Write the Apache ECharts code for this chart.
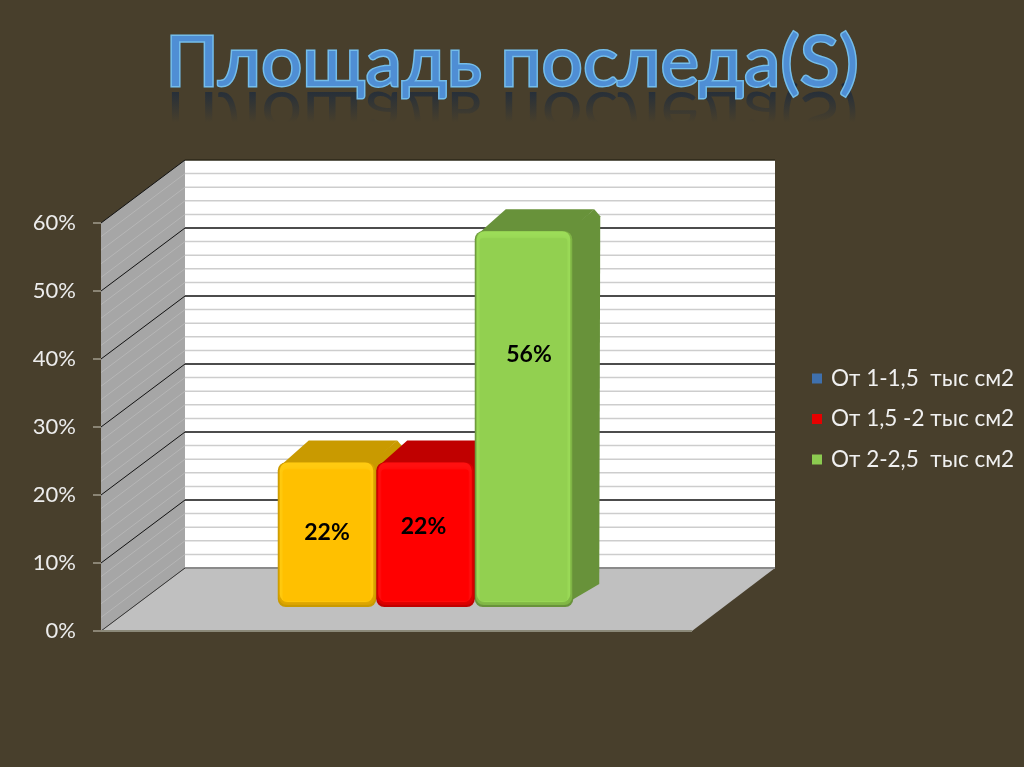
<!DOCTYPE html>
<html><head><meta charset="utf-8">
<style>html,body{margin:0;padding:0;background:#483f2c}#c{width:1024px;height:767px}</style>
<script src="https://cdn.jsdelivr.net/npm/echarts@6/dist/echarts.min.js"></script>
</head><body><div id="c"></div>
<script>
const titleText = 'Площадь последа(S)';
const seriesNames = ['От 1-1,5  тыс см2', 'От 1,5 -2 тыс см2', 'От 2-2,5  тыс см2'];
const seriesValues = [22, 22, 56];
const labelTexts = ['22%', '22%', '56%'];
const majorTicks = [0, 10, 20, 30, 40, 50, 60];
const minorTicks = [2,4,6,8,12,14,16,18,22,24,26,28,32,34,36,38,42,44,46,48,52,54,56,58];

const legendColors = ['#3f70ad', '#e60000', '#8ccb50'];
const frontColors = ['#ffc000', '#ff0000', '#92d050'];
const depthColors = ['#c99a00', '#c00000', '#68923a'];
const edgeColors = ['#d9a200', '#d80000', '#7fb544'];
const lightColors = ['#ffcb10', '#ff1010', '#9cdc58'];

const DX = 84, DY = -63;
const BAR_DX = 29, BAR_BASE = -24, BAR_TOP = -19, BAR_DEPTH_X = 28, BAR_DEPTH_Y = -22;
const LABEL_LAYOUT = [[0, 71], [-2, 77], [5, 249]];   // px from bar centre / px above the bar base line
const BG = '#483f2c';

function wallsItem(params, api) {
  const a = api.coord([0, 0]), b = api.coord([0, 60]);
  const band = api.size([1, 0])[0];
  const L = a[0] - band / 2, R = a[0] + band / 2, B = a[1], T = b[1];
  const RB = R + DX - 1;
  const y = v => api.coord([0, v])[1];
  const kids = [];
  kids.push({type:'polygon', shape:{points:[[L+DX,T+DY],[RB,T+DY],[RB,B+DY],[L+DX,B+DY]]}, style:{fill:'#ffffff'}});
  kids.push({type:'polygon', shape:{points:[[L,B],[L+DX,B+DY],[L+DX,T+DY],[L,T]]}, style:{fill:'#a6a6a6'}});
  kids.push({type:'polygon', shape:{points:[[L,B],[R,B],[RB,B+DY],[L+DX,B+DY]]}, style:{fill:'#c0c0c0'}});
  minorTicks.forEach(v => {
    const Y = y(v);
    kids.push({type:'line', shape:{x1:L+DX,y1:Y+DY,x2:RB,y2:Y+DY}, style:{stroke:'#cdcdcd',lineWidth:1.5}});
    kids.push({type:'line', shape:{x1:L,y1:Y,x2:L+DX,y2:Y+DY}, style:{stroke:'#b6b6b6',lineWidth:1}});
  });
  majorTicks.forEach(v => {
    const Y = y(v);
    const c = v === 0 ? '#8a8a8a' : (v === 60 ? '#2c2818' : '#111111');
    kids.push({type:'line', shape:{x1:L+DX,y1:Y+DY,x2:RB,y2:Y+DY}, style:{stroke:c,lineWidth:v===0?2:1.5}});
    kids.push({type:'line', shape:{x1:L,y1:Y,x2:L+DX,y2:Y+DY}, style:{stroke:v===0?'#333':'#111111',lineWidth:1}});
  });
  kids.push({type:'line', shape:{x1:L,y1:B,x2:R,y2:B}, style:{stroke:'#8a8878',lineWidth:2}});
  return {type:'group', children:kids};
}

function barItem(i) {
  return function (params, api) {
    const band = api.size([1, 0])[0], w = band / 6;
    const p0 = api.coord([0, 0]), pv = api.coord([0, api.value(1)]);
    const x = p0[0] + BAR_DX - band / 4 + i * w;
    const top = pv[1] + BAR_TOP, bot = p0[1] + BAR_BASE, h = bot - top;
    const dx = BAR_DEPTH_X, dy = BAR_DEPTH_Y, r = 8;
    const lx = x + w / 2 + LABEL_LAYOUT[i][0], ly = p0[1] + BAR_TOP - LABEL_LAYOUT[i][1] - 8;
    return {type:'group', children:[
      {type:'polygon', shape:{points:[[x+w-3,bot-6],[x+w+dx-2,bot+dy-1],[x+w+dx-1,top+dy+7],[x+w+dx-7,top+dy],[x+w-8,top+2]]}, style:{fill:depthColors[i]}},
      {type:'polygon', shape:{points:[[x+4,top+2],[x+dx+3,top+dy],[x+w+dx-7,top+dy],[x+w-6,top+2]]}, style:{fill:depthColors[i]}},
      {type:'rect', shape:{x:x,y:top,width:w,height:h,r:r}, style:{fill:depthColors[i]}},
      {type:'rect', shape:{x:x+1,y:top,width:w-2,height:h-2,r:r}, style:{fill:edgeColors[i]}},
      {type:'rect', shape:{x:x+2,y:top,width:w-5,height:h-5,r:r}, style:{fill:lightColors[i]}},
      {type:'rect', shape:{x:x+5,y:top+7,width:w-11,height:h-13,r:3}, style:{fill:frontColors[i], shadowBlur:4, shadowColor:frontColors[i]}},
      {type:'text', style:{x:lx,y:ly,text:labelTexts[i],fill:'#000000',font:'bold 23px Lato',align:'center',verticalAlign:'middle'}}
    ]};
  };
}

const chart = echarts.init(document.getElementById('c'), null, {renderer:'canvas'});
const barSeries = seriesNames.map((n, i) => ({
  name:n, type:'custom', coordinateSystem:'cartesian2d', clip:false, z:5+i,
  itemStyle:{color:legendColors[i]},
  encode:{x:0,y:1},
  renderItem:barItem(i),
  data:[[0, seriesValues[i]]]
}));

const TITLE_FONT = '73px Lato';
chart.setOption({
  animation:false,
  backgroundColor:BG,
  graphic:[
    {type:'text', z:1, x:512, y:80, scaleY:-0.95, silent:true,
     style:{text:titleText, font:TITLE_FONT, fill:'#1f2c3c', align:'center', verticalAlign:'bottom'}},
    {type:'rect', z:2, silent:true, shape:{x:140,y:89,width:744,height:64},
     style:{fill:{type:'linear',x:0,y:0,x2:0,y2:1,colorStops:[
       {offset:0,color:'rgba(72,63,44,0.1)'},{offset:0.52,color:'rgba(72,63,44,1)'},{offset:1,color:'rgba(72,63,44,1)'}]}}},
    {type:'text', z:3, x:512, y:98.5, scaleY:0.95, silent:true,
     style:{text:titleText, font:TITLE_FONT, fill:'#4f8ed4', align:'center', verticalAlign:'bottom',
       stroke:'#74bdea', lineWidth:3, shadowColor:'rgba(20,30,50,0.8)', shadowBlur:3, shadowOffsetX:1, shadowOffsetY:1}}
  ],
  legend:{
    orient:'vertical', left:807, top:362, itemWidth:10, itemHeight:10, itemGap:17.5, icon:'rect',
    textStyle:{color:'#f0f0f0', fontFamily:'Lato', fontSize:22.5, padding:[0,0,0,4]},
    selectedMode:false,
    data:seriesNames
  },
  grid:{left:101, top:223, width:591, height:408},
  xAxis:{type:'category', data:[''], axisLine:{show:false}, axisTick:{show:false}, axisLabel:{show:false}, splitLine:{show:false}},
  yAxis:{type:'value', min:0, max:60, interval:10,
    axisLine:{show:false},
    axisTick:{show:true, length:8, inside:false, lineStyle:{color:'#a09c8c', width:1.5}},
    axisLabel:{color:'#ececec', fontFamily:'Lato', fontSize:22, margin:25, padding:[6,0,0,0], formatter:'{value}%'},
    splitLine:{show:false}},
  series:[
    {type:'custom', name:'walls', silent:true, clip:false, z:1, coordinateSystem:'cartesian2d', encode:{x:0,y:1}, renderItem:wallsItem, data:[[0,0]]},
    ...barSeries
  ]
});
</script></body></html>
